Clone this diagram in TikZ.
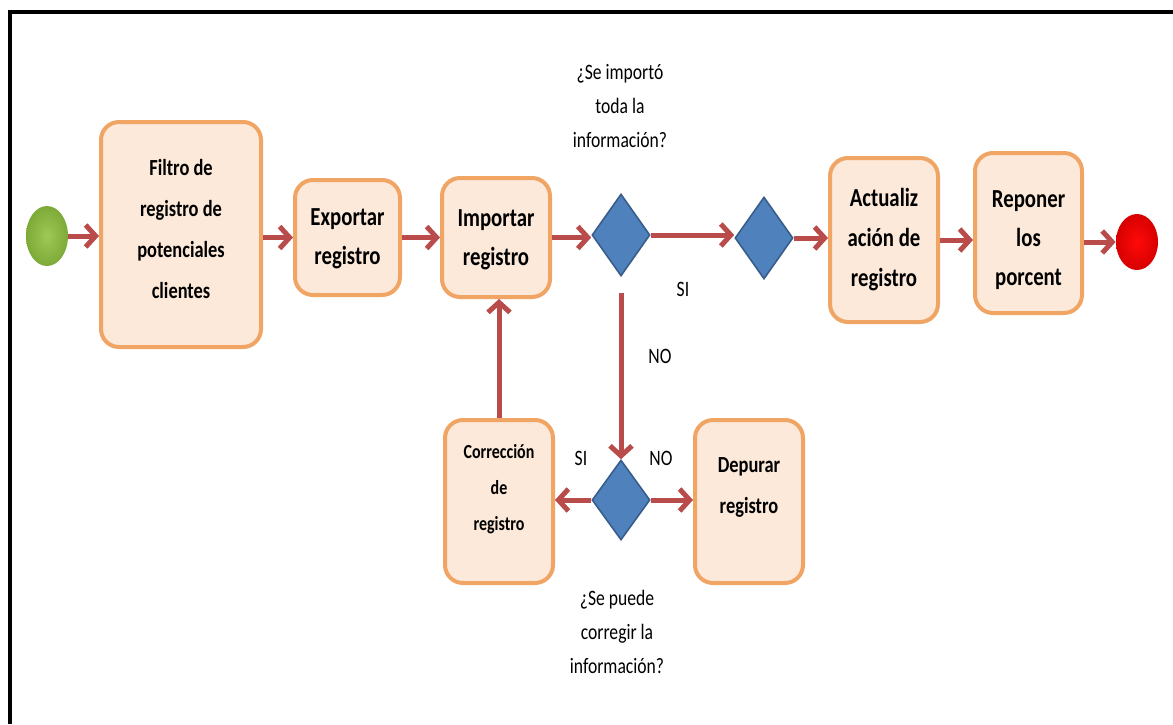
\documentclass[tikz,border=0pt]{standalone}
\usepackage{fontspec}
\setmainfont{Carlito}[FakeStretch=0.8]
\usetikzlibrary{shapes.geometric,arrows.meta}
\definecolor{boxfill}{RGB}{252,233,217}
\definecolor{boxline}{RGB}{240,165,100}
\definecolor{arrowc}{RGB}{185,75,75}
\definecolor{dfill}{RGB}{79,129,189}
\definecolor{dline}{RGB}{56,93,138}
\definecolor{gin}{RGB}{160,200,85}
\definecolor{gout}{RGB}{125,170,55}
\definecolor{rin}{RGB}{255,10,10}
\definecolor{rout}{RGB}{215,0,0}
\begin{document}
\begin{tikzpicture}[x=0.5pt,y=-0.5pt,
  box/.style={draw=boxline, fill=boxfill, line width=2pt, rounded corners=9pt, inner sep=0pt},
  dec/.style={diamond, draw=dline, fill=dfill, line width=0.8pt, inner sep=0pt, minimum width=29pt, minimum height=41pt},
  flow/.style={draw=arrowc, line width=2.5pt, -{Straight Barb[length=5pt,width=11pt]}},
  btxt/.style={align=center, inner sep=0pt, font=\bfseries\fontsize{13pt}{19.5pt}\selectfont},
  lbl/.style={align=center, inner sep=0pt, font=\fontsize{11pt}{17pt}\selectfont},
]
\useasboundingbox (0,0) rectangle (1173,724);
\fill[white] (0,0) rectangle (1173,724);
\draw[line width=2pt] (10,724) -- (10,12) -- (1173,12);

% start / end
\node[ellipse, shade, inner color=gin, outer color=gout, minimum width=21pt, minimum height=30pt, inner sep=0pt] (start) at (47,236) {};
\node[ellipse, shade, inner color=rin, outer color=rout, minimum width=21pt, minimum height=28pt, inner sep=0pt] (stop) at (1137,242) {};

% boxes
\node[box, minimum width=80pt, minimum height=112.5pt] (filtro) at (181,234.5) {};
\node[box, minimum width=52.5pt, minimum height=57.5pt] (exp) at (347.5,237.5) {};
\node[box, minimum width=54pt, minimum height=59.5pt] (imp) at (496,237.5) {};
\node[box, minimum width=54pt, minimum height=82pt] (act) at (884,240) {};
\node[box, minimum width=53.5pt, minimum height=80pt] (rep) at (1028.5,233) {};
\node[box, minimum width=54pt, minimum height=81.5pt] (corr) at (499,501.5) {};
\node[box, minimum width=54pt, minimum height=81.5pt] (dep) at (749,501.5) {};

% box texts
\node[btxt, font=\bfseries\fontsize{11.5pt}{20.5pt}\selectfont] (filtroT) at (181,229) {Filtro de\\registro de\\potenciales\\clientes};
\node[btxt] (expT) at (347.5,239) {Exportar\\registro};
\node[btxt] (impT) at (496,240) {Importar\\registro};
\node[btxt, font=\bfseries\fontsize{13pt}{20pt}\selectfont] (actT) at (884,240) {Actualiz\\ación de\\registro};
\node[btxt] (repT) at (1028.5,240) {Reponer\\los\\porcent};
\node[btxt, font=\bfseries\fontsize{10pt}{18pt}\selectfont] (corrT) at (499,489) {Corrección\\de\\registro};
\node[btxt, font=\bfseries\fontsize{11.5pt}{20.5pt}\selectfont] (depT) at (749,487.5) {Depurar\\registro};

% decisions
\node[dec] (d1) at (621,235) {};
\node[dec] (d2) at (764,238) {};
\node[dec, minimum height=40pt] (d3) at (621,500) {};

% labels
\node[lbl] (q1) at (620,106) {¿Se importó\\toda la\\información?};
\node[lbl] (q2) at (617,632) {¿Se puede\\corregir la\\información?};
\node[lbl] (si1) at (683,289) {SI};
\node[lbl] (no1) at (660,356) {NO};
\node[lbl] (si2) at (581,458) {SI};
\node[lbl] (no2) at (661,458) {NO};

% connectors
\draw[flow] (start.east) -- (start.east -| filtro.west);
\draw[flow] (filtro.east |- exp.west) -- (exp.west);
\draw[flow] (exp.east) -- (exp.east -| imp.west);
\draw[flow] (imp.east) -- (imp.east -| d1.west);
\draw[flow] (d1.east) -- (d1.east -| d2.west);
\draw[flow] (d2.east) -- (d2.east -| act.west);
\draw[flow] (act.east) -- (act.east -| rep.west);
\draw[flow] (rep.east |- stop.west) -- (stop.west);
\draw[flow] ([yshift=-8pt]d1.south) -- (d3.north);
\draw[flow] (d3.west) -- (d3.west -| corr.east);
\draw[flow] (d3.east) -- (d3.east -| dep.west);
\draw[flow] (corr.north) -- (corr.north |- imp.south);
\end{tikzpicture}
\end{document}
